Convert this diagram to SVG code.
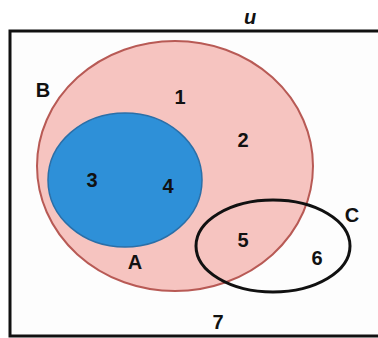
<svg xmlns="http://www.w3.org/2000/svg" width="378" height="338" viewBox="0 0 378 338">
<style>
text{font-family:"Liberation Sans",Arial,sans-serif;font-weight:bold;font-size:20px;fill:#111;text-anchor:middle}
</style>
<rect width="378" height="338" fill="#fff"/>
<g id="U">
<rect x="10" y="31" width="370" height="305" fill="#fdfdfd" stroke="#111" stroke-width="3"/>
<text x="250" y="24" font-style="italic">u</text>
</g>
<g id="B">
<ellipse cx="175" cy="166" rx="138" ry="125" fill="#f6c4c0" stroke="#b85a55" stroke-width="2"/>
<text x="43" y="97">B</text>
</g>
<g id="A">
<ellipse cx="125" cy="180" rx="77" ry="67" fill="#2e90d8" stroke="#2a6fa8" stroke-width="1.5"/>
<text x="135" y="269">A</text>
</g>
<g id="C">
<ellipse cx="273" cy="246" rx="77" ry="46" fill="none" stroke="#111" stroke-width="3"/>
<text x="352" y="222">C</text>
</g>
<g id="labels">
<text x="180" y="104">1</text>
<text x="243" y="147">2</text>
<text x="92" y="187">3</text>
<text x="168" y="193">4</text>
<text x="243" y="247">5</text>
<text x="317" y="265">6</text>
<text x="218" y="329">7</text>
</g>
<g id="connectors"/>
</svg>
